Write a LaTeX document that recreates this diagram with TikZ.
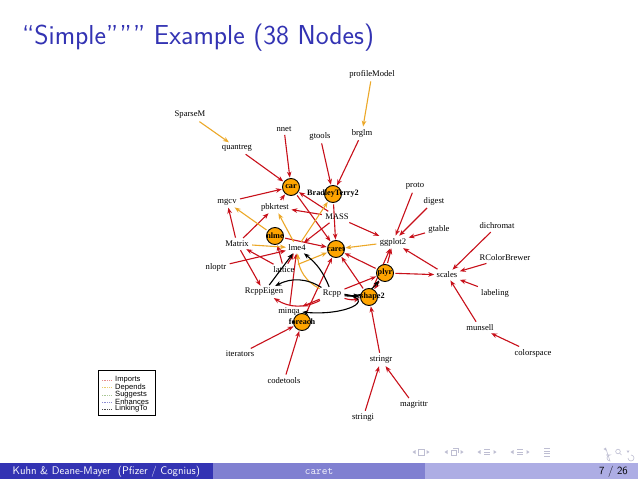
\documentclass[tikz,border=0pt]{standalone}
\usepackage{fontspec}
\setmainfont{Liberation Serif}
\newfontfamily\lsans{Liberation Sans}
\usetikzlibrary{arrows.meta}
\pgfdeclarelayer{bg}
\pgfsetlayers{bg,main}
\definecolor{impc}{RGB}{200,16,26}
\definecolor{depc}{RGB}{236,168,40}
\definecolor{pkgfill}{RGB}{255,165,0}
\definecolor{struct}{RGB}{51,51,179}
\definecolor{barmid}{RGB}{128,128,209}
\definecolor{barright}{RGB}{173,173,228}
\definecolor{navc}{RGB}{190,190,210}
\definecolor{legimp}{RGB}{230,140,140}
\definecolor{legdep}{RGB}{232,205,110}
\definecolor{legsug}{RGB}{170,200,150}
\definecolor{legenh}{RGB}{140,140,210}
\begin{document}
\begin{tikzpicture}[x=1pt,y=-1pt,
  pkg/.style={font=\fontsize{8.6}{9}\selectfont, inner sep=1.8pt},
  hub/.style={circle, draw=black, line width=0.9pt, fill=pkgfill, minimum size=17pt, inner sep=0pt},
  hublabel/.style={font=\fontsize{8.2}{9}\selectfont\bfseries, inner sep=0pt},
  edgebase/.style={line width=1.1pt, shorten >=0.5pt, shorten <=1.5pt},
  imp/.style={edgebase, draw=impc, arrows={-{Stealth[length=6pt,width=4.6pt,color=impc]}}},
  dep/.style={edgebase, draw=depc, arrows={-{Stealth[length=6pt,width=4.6pt,color=depc]}}},
  lnk/.style={edgebase, draw=black, arrows={-{Stealth[length=6pt,width=4.6pt]}}},
  legtext/.style={font=\lsans\fontsize{7.6}{7}\selectfont, inner sep=0pt, anchor=west},
  legdash/.style={line width=0.7pt, densely dotted},
  footfont/.style={font=\sffamily\fontsize{11}{12}\selectfont, inner sep=0pt}
]
\useasboundingbox (0,0) rectangle (638,479);

% title
\node[anchor=base west, font=\sffamily\fontsize{27.4}{30}\selectfont, text=struct, inner sep=0pt] (title) at (22,44) {“Simple””” Example (38 Nodes)};

% package nodes
\node[pkg] (profileModel) at (372,74) {profileModel};
\node[pkg] (SparseM) at (190,115) {SparseM};
\node[pkg] (quantreg) at (237,148) {quantreg};
\node[pkg] (nnet) at (284,129) {nnet};
\node[pkg] (gtools) at (320,136) {gtools};
\node[pkg] (brglm) at (362,133) {brglm};
\node[hub] (car) at (291,187) {};
\node[hub] (BT2) at (333,194) {};
\node[pkg] (proto) at (415,186) {proto};
\node[pkg] (digest) at (434,201) {digest};
\node[pkg] (mgcv) at (227,202) {mgcv};
\node[pkg] (pbkrtest) at (275,207) {pbkrtest};
\node[pkg] (MASS) at (337,217) {MASS};
\node[pkg] (gtable) at (439,229) {gtable};
\node[pkg] (dichromat) at (497,226) {dichromat};
\node[hub] (nlme) at (275,236) {};
\node[pkg] (Matrix) at (237,244) {Matrix};
\node[pkg] (lme4) at (297,248) {lme4};
\node[hub] (caret) at (336,249) {};
\node[pkg] (ggplot2) at (393,242) {ggplot2};
\node[pkg] (RColorBrewer) at (505,258) {RColorBrewer};
\node[pkg] (nloptr) at (216,267) {nloptr};
\node[pkg] (lattice) at (284,270) {lattice};
\node[hub] (plyr) at (385,273) {};
\node[pkg] (scales) at (447,275) {scales};
\node[pkg] (RcppEigen) at (264,292) {RcppEigen};
\node[pkg] (Rcpp) at (332,294) {Rcpp};
\node[hub] (reshape2) at (369,297) {};
\node[pkg] (labeling) at (495,293) {labeling};
\node[pkg] (minqa) at (289,312) {minqa};
\node[hub] (foreach) at (302,322) {};
\node[pkg] (munsell) at (480,328) {munsell};
\node[pkg] (colorspace) at (533,353) {colorspace};
\node[pkg] (iterators) at (240,354) {iterators};
\node[pkg] (stringr) at (381,360) {stringr};
\node[pkg] (codetools) at (284,381) {codetools};
\node[pkg] (magrittr) at (414,405) {magrittr};
\node[pkg] (stringi) at (363,418) {stringi};

\node[hublabel] (car-l) at (car) {car};
\node[hublabel] (BT2-l) at (BT2) {BradleyTerry2};
\node[hublabel] (nlme-l) at (nlme) {nlme};
\node[hublabel] (caret-l) at (caret) {caret};
\node[hublabel] (plyr-l) at (plyr) {plyr};
\node[hublabel] (reshape2-l) at (reshape2) {reshape2};
\node[hublabel] (foreach-l) at (foreach) {foreach};

\begin{pgfonlayer}{bg}
\fill[white] (0,0) rectangle (638,479);
% Imports
\draw[imp] (brglm) -- (BT2);
\draw[imp] (gtools) -- (BT2);
\draw[imp] (nnet) -- (car);
\draw[imp] (quantreg) -- (car);
\draw[imp] (mgcv) -- (car);
\draw[imp] (pbkrtest) -- (car);
\draw[imp] (MASS) -- (car);
\draw[imp] (car) -- (caret);
\draw[imp] (BT2) -- (caret);
\draw[imp] (MASS) -- (pbkrtest);
\draw[imp] (MASS) -- (lme4);
\draw[imp] (MASS) -- (ggplot2);
\draw[imp] (Matrix) -- (mgcv);
\draw[imp] (Matrix) -- (pbkrtest);
\draw[imp] (Matrix) -- (RcppEigen);
\draw[imp] (lattice) -- (Matrix);
\draw[imp] (lattice) -- (nlme);
\draw[imp] (nlme) -- (caret);
\draw[imp] (lattice) -- (lme4);
\draw[imp] (nloptr) -- (lme4);
\draw[imp] (minqa) -- (lme4);
\draw[imp] (Rcpp) to[bend left=30] (RcppEigen);
\draw[imp] (Rcpp) -- (minqa);
\draw[imp] (Rcpp) -- (plyr);
\draw[imp] (Rcpp) to[bend right=15] (reshape2);
\draw[imp] (plyr) -- (reshape2);
\draw[imp] (stringr) -- (reshape2);
\draw[imp] (plyr) -- (ggplot2);
\draw[imp] (reshape2) -- (ggplot2);
\draw[imp] (digest) -- (ggplot2);
\draw[imp] (gtable) -- (ggplot2);
\draw[imp] (proto) -- (ggplot2);
\draw[imp] (scales) -- (ggplot2);
\draw[imp] (plyr) -- (scales);
\draw[imp] (dichromat) -- (scales);
\draw[imp] (RColorBrewer) -- (scales);
\draw[imp] (labeling) -- (scales);
\draw[imp] (munsell) -- (scales);
\draw[imp] (colorspace) -- (munsell);
\draw[imp] (plyr) -- (caret);
\draw[imp] (reshape2) -- (caret);
\draw[imp] (foreach) -- (caret);
\draw[imp] (iterators) -- (foreach);
\draw[imp] (codetools) -- (foreach);
\draw[imp] (stringi) -- (stringr);
\draw[imp] (magrittr) -- (stringr);
% Depends
\draw[dep] (SparseM) -- (quantreg);
\draw[dep] (profileModel) -- (brglm);
\draw[dep] (lme4) -- (BT2);
\draw[dep] (lme4) -- (pbkrtest);
\draw[dep] (nlme) -- (mgcv);
\draw[dep] (Matrix) -- (lme4);
\draw[dep] (ggplot2) -- (caret);
\draw[dep] (lattice) -- (caret);
\draw[dep] (Rcpp) to[bend left=30] (lme4);
% LinkingTo
\draw[lnk] (RcppEigen) -- (lme4);
\draw[lnk] (Rcpp) to[bend right=15] (lme4);
\draw[lnk] (Rcpp) to[bend right=30] (RcppEigen);
\draw[lnk] (Rcpp.east) .. controls (378,300) and (345,316) .. (minqa.east);
\draw[lnk] (Rcpp) to[bend right=30] (plyr);
\draw[lnk] (Rcpp) -- (reshape2);
\end{pgfonlayer}

% legend
\node[draw=black, line width=0.6pt, minimum width=57pt, minimum height=45pt, anchor=north west, inner sep=0pt] (legend) at (98,370) {};
\draw[legdash, legimp] (102,380) -- (111,380);
\draw[legdash, legdep] (102,387.5) -- (111,387.5);
\draw[legdash, legsug] (102,395) -- (111,395);
\draw[legdash, legenh] (102,402) -- (111,402);
\draw[legdash, black!70] (102,409) -- (111,409);
\node[legtext] (lg1) at (115,380) {Imports};
\node[legtext] (lg2) at (115,387.5) {Depends};
\node[legtext] (lg3) at (115,395) {Suggests};
\node[legtext] (lg4) at (115,402) {Enhances};
\node[legtext] (lg5) at (115,409) {LinkingTo};

% navigation symbols
\begin{scope}[navc, line width=0.6pt]
  \foreach \cx in {414,446,479,512} {\fill (\cx+1.5,450) -- (\cx-1.5,452) -- (\cx+1.5,454) -- cycle;}
  \foreach \cx in {428,462,495,528} {\fill (\cx-1.5,450) -- (\cx+1.5,452) -- (\cx-1.5,454) -- cycle;}
  \draw (418,449) rectangle (424,455);
  \draw (451,450) rectangle (456,455);
  \draw (453,448) -- (458,448) -- (458,453);
  \foreach \cx in {487,520} {\draw (\cx-3,449.5) -- (\cx+3,449.5) (\cx-3,452) -- (\cx+3,452) (\cx-3,454.5) -- (\cx+3,454.5);}
  \draw (544,448.5) -- (550,448.5) (544,451) -- (550,451) (544,453.5) -- (550,453.5) (544,456) -- (550,456);
  \draw (606,455) -- (610,455) arc (90:-90:-3) -- (606,449);
  \fill (606,447.5) -- (603.5,449) -- (606,450.5) -- cycle;
  \draw (618,451.5) circle (2.3); \draw (619.7,453.2) -- (621.5,455);
  \draw (631,455) arc (-90:180:3);
  \fill (626.5,450.5) -- (628,453) -- (629.5,450.5) -- cycle;
\end{scope}

% footline
\fill[struct] (0,463) rectangle (212.67,479);
\fill[barmid] (212.67,463) rectangle (425.33,479);
\fill[barright] (425.33,463) rectangle (638,479);
\node[footfont, text=white, anchor=base] (author) at (106.3,474) {Kuhn \& Deane-Mayer~~(Pfizer / Cognius)};
\node[font=\ttfamily\fontsize{11}{12}\selectfont, inner sep=0pt, text=white!92!barmid, anchor=base] (ftitle) at (319,474) {caret};
\node[footfont, text=black, anchor=base east] (pages) at (628,474) {7 / 26};
\end{tikzpicture}
\end{document}
